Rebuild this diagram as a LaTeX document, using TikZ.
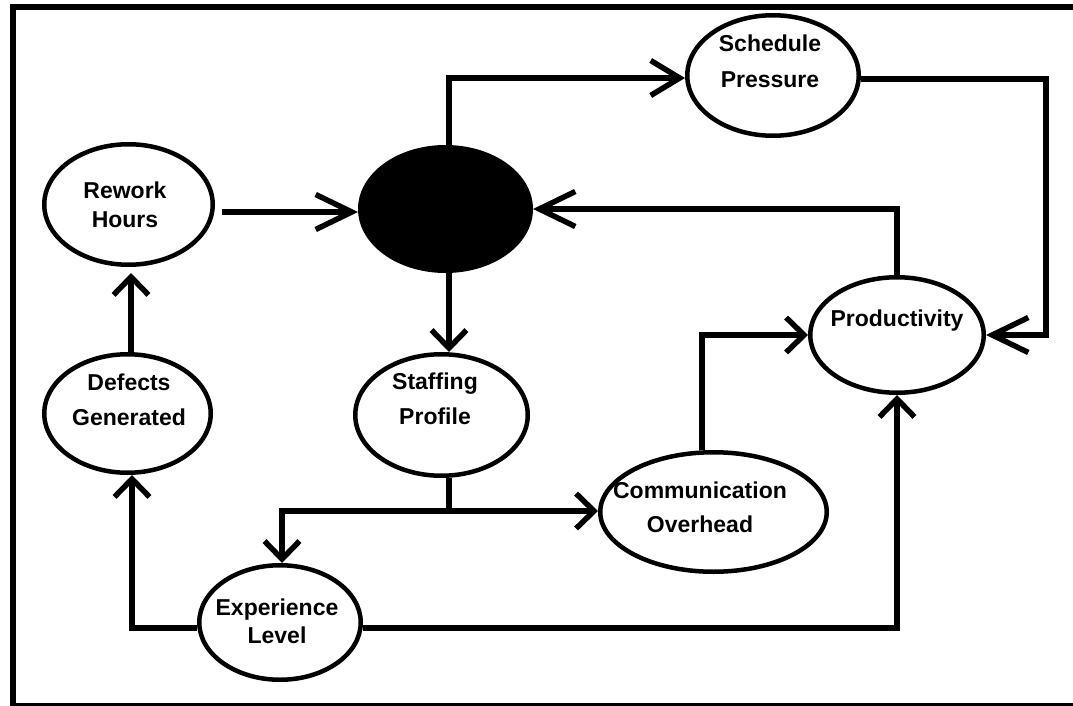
\documentclass[tikz,border=0pt]{standalone}
\usepackage{fontspec}
\setmainfont{Liberation Sans}
\usetikzlibrary{shapes.geometric,arrows.meta,calc}
\begin{document}
\begin{tikzpicture}[x=1pt,y=-1pt,
  ell/.style={ellipse, draw, line width=4.5pt, inner sep=0pt},
  lbl/.style={align=center, inner sep=0pt, font=\fontsize{23}{#1}\selectfont\bfseries},
  con/.style={line width=5.5pt},
  conL/.style={con, -{Straight Barb[length=36pt,width=35pt]}},
  conM/.style={con, -{Straight Barb[length=29pt,width=35pt]}},
  conS/.style={con, -{Straight Barb[length=18pt,width=35pt]}},
  frame/.style={line width=6pt}]
\useasboundingbox (0,0) rectangle (1073,706);
\clip (0,0) rectangle (1073,706);
\draw[frame] (1090,7) -- (12.5,7) -- (12.5,705.5) -- (1090,705.5);

% ellipses
\node[ell, minimum width=168.5pt, minimum height=120.5pt] (rework) at (128.5,204.5) {};
\node[ell, fill=black, minimum width=170.5pt, minimum height=123.5pt] (black) at (445.5,209) {};
\node[ell, minimum width=171.5pt, minimum height=120.5pt] (sched) at (773,75.5) {};
\node[ell, minimum width=173.5pt, minimum height=115.5pt] (prod) at (897,335) {};
\node[ell, minimum width=172.5pt, minimum height=121.5pt] (staff) at (441.5,415) {};
\node[ell, minimum width=226.5pt, minimum height=119.5pt] (comm) at (713.5,512) {};
\node[ell, minimum width=166.5pt, minimum height=118.5pt] (defects) at (127.5,413.5) {};
\node[ell, minimum width=161.5pt, minimum height=114.5pt] (exp) at (280,622.5) {};

% labels
\node[lbl=29] (tRework) at (125,205) {Rework\\Hours};
\node[lbl=36] (tSched) at (770,61) {Schedule\\Pressure};
\node[lbl=29] (tProd) at (897,321) {Productivity};
\node[lbl=35] (tStaff) at (435,399) {Staffing\\Profile};
\node[lbl=35] (tDef) at (129,400) {Defects\\Generated};
\node[lbl=28] (tExp) at (277,621) {Experience\\Level};
\node[lbl=34] (tComm) at (700,507) {Communication\\Overhead};

% connectors
\coordinate (sj) at (449,511);
\coordinate (spR) at (1046,79);
\coordinate (rwS) at ($(rework.east)+(7,7.5)$);
\draw[conL] (rwS) -- (rwS -| black.west);
\draw[conM] ($(black.north)+(3.5,0)$) |- ($(sched.west)+(0,2.5)$);
\draw[conL] (sched.east |- spR) -- (spR) |- (prod.east);
\draw[conL] (prod.north) |- (black.east);
\draw[conS] ($(black.south)+(3.5,0)$) -- ($(staff.north)+(7.5,0)$);
\draw[con] (staff.south -| sj) -- (sj);
\draw[conS] (sj) -| ($(exp.north)+(2,0)$);
\draw[conS] (sj) -- (sj -| comm.west);
\draw[conS] ($(comm.north)+(-11.5,0)$) |- (prod.west);
\draw[conS] ($(exp.east)+(0,5.5)$) -| (prod.south);
\draw[conS] ($(exp.west)+(0,5.5)$) -| ($(defects.south)+(4.5,0)$);
\draw[conS] ($(defects.north)+(3.5,0)$) -- ($(rework.south)+(2.5,6)$);
\end{tikzpicture}
\end{document}
